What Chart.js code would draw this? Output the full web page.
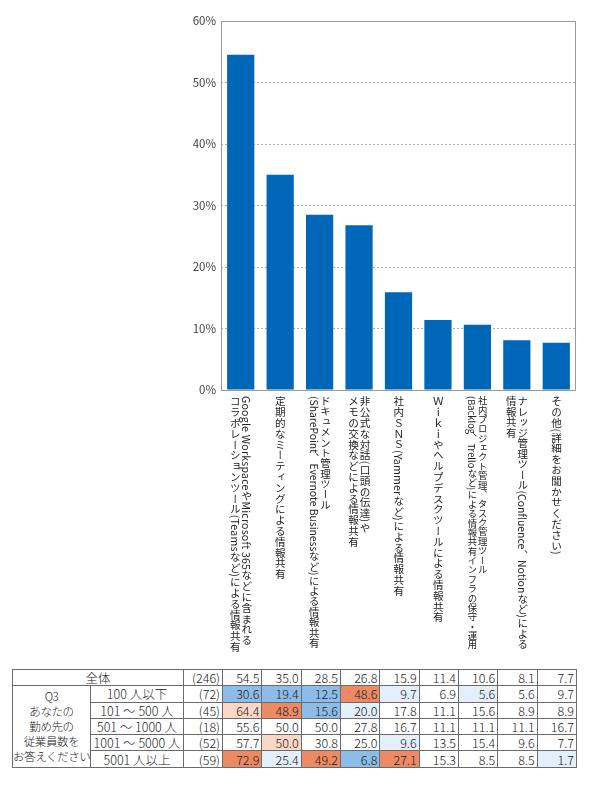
<!DOCTYPE html>
<html><head><meta charset="utf-8">
<script src="https://cdn.jsdelivr.net/npm/chart.js@4.4.1/dist/chart.umd.min.js"></script>
<style>
html,body{margin:0;padding:0;background:#fff;}
#wrap{position:relative;width:590px;height:786px;overflow:hidden;font-family:"Noto Sans CJK JP","Noto Sans",sans-serif;}
#cv{position:absolute;left:0;top:0;}
.xl{position:absolute;top:396px;writing-mode:vertical-rl;font-size:10.6px;line-height:11.5px;letter-spacing:0.2px;color:#222;white-space:nowrap;transform:translateX(-50%);}
table{position:absolute;left:12px;top:669px;border-collapse:collapse;table-layout:fixed;width:564px;font-size:12.5px;font-weight:300;color:#222;}
td{border:1px solid #6a6a6a;padding:0 2px;line-height:15px;height:15.3px;white-space:nowrap;overflow:hidden;}
td.num{text-align:right;}
td.c{text-align:center;font-size:12.5px;}
td.grp{text-align:center;font-size:11.5px;line-height:15px;padding:0;letter-spacing:-0.4px;}
</style></head>
<body><div id="wrap"><canvas id="cv" width="590" height="403"></canvas><table id="tb"></table></div>
<script>
// ---- data ----
const categories = [
  ['Google WorkspaceやMicrosoft 365などに含まれる','コラボレーションツール(Teamsなど)による情報共有'],
  ['定期的なミーティングによる情報共有'],
  ['ドキュメント管理ツール','(SharePoint、Evernote Businessなど)による情報共有'],
  ['非公式な対話(口頭の伝達)や','メモの交換などによる情報共有'],
  ['社内ＳＮＳ(Yammerなど)による情報共有'],
  ['Ｗｉｋｉやヘルプデスクツールによる情報共有'],
  ['社内プロジェクト管理、タスク管理ツール','(Backlog、Trelloなど)による情報共有インフラの保守・運用'],
  ['ナレッジ管理ツール(Confluence、Notionなど)による','情報共有'],
  ['その他(詳細をお聞かせください)']
];
const overallLabel = '全体';
const overallN = 246;
const overall = [54.5, 35.0, 28.5, 26.8, 15.9, 11.4, 10.6, 8.1, 7.7];
const groupTitle = ['Q3','あなたの','勤め先の','従業員数を','お答えください'];
const groupLabels = ['100 人以下','101 ～ 500 人','501 ～ 1000 人','1001 ～ 5000 人','5001 人以上'];
const groupN = [72, 45, 18, 52, 59];
const emp100 = [30.6, 19.4, 12.5, 48.6, 9.7, 6.9, 5.6, 5.6, 9.7];
const emp500 = [64.4, 48.9, 15.6, 20.0, 17.8, 11.1, 15.6, 8.9, 8.9];
const emp1000 = [55.6, 50.0, 50.0, 27.8, 16.7, 11.1, 11.1, 11.1, 16.7];
const emp5000 = [57.7, 50.0, 30.8, 25.0, 9.6, 13.5, 15.4, 9.6, 7.7];
const empOver = [72.9, 25.4, 49.2, 6.8, 27.1, 15.3, 8.5, 8.5, 1.7];
// highlight level: 2 = much higher, 1 = higher, -1 = lower, -2 = much lower
const mark100 = [-2, -2, -2, 2, -1, 0, -1, 0, 0];
const mark500 = [1, 2, -2, -1, 0, 0, 0, 0, 0];
const mark1000 = [0, 0, 0, 0, 0, 0, 0, 0, 0];
const mark5000 = [0, 1, 0, 0, -1, 0, 0, 0, 0];
const markOver = [2, -1, 2, -2, 2, 0, 0, 0, -1];
const yTicks = [0, 10, 20, 30, 40, 50, 60];

// ---- styles ----
const markColor = {'2':'#ec8a63','1':'#fbd7c5','-1':'#e3effa','-2':'#8dbce8','0':''};
const groupRows = [emp100, emp500, emp1000, emp5000, empOver];
const groupMarks = [mark100, mark500, mark1000, mark5000, markOver];
const labelMaxLen = 260;

const frame = {
  id:'frame',
  afterDatasetsDraw(chart){
    const {ctx, chartArea:a} = chart;
    ctx.save();
    ctx.strokeStyle = '#9a9a9a';
    ctx.lineWidth = 1;
    ctx.strokeRect(a.left+0.5, a.top+0.5, a.right-a.left-1, a.bottom-a.top);
    ctx.restore();
  }
};
const xLabels = {
  id:'xLabels',
  afterRender(chart){
    if (chart._xl) return;
    chart._xl = true;
    const wrap = document.getElementById('wrap');
    const xs = chart.scales.x;
    categories.forEach((lines, i) => {
      const d = document.createElement('div');
      d.className = 'xl';
      d.style.left = xs.getPixelForValue(i) + 'px';
      d.style.top = (chart.chartArea.bottom + 6) + 'px';
      lines.forEach((t, k) => {
        if (k) d.appendChild(document.createElement('br'));
        d.appendChild(document.createTextNode(t));
      });
      wrap.appendChild(d);
      const len = d.getBoundingClientRect().height;
      if (len > labelMaxLen) {
        const f = labelMaxLen / len;
        d.style.fontSize = (10.6 * f) + 'px';
        d.style.letterSpacing = '0px';
        d.style.lineHeight = (11.5 * Math.max(f, 0.9)) + 'px';
      }
    });
  }
};

new Chart(document.getElementById('cv'), {
  type:'bar',
  data:{labels:categories, datasets:[{data:overall, backgroundColor:'#0066b7', barPercentage:0.69, categoryPercentage:1}]},
  options:{
    responsive:false, animation:false,
    layout:{padding:{top:21, right:14, bottom:13, left:0}},
    plugins:{legend:{display:false}, tooltip:{enabled:false}},
    scales:{
      x:{ticks:{display:false}, grid:{display:false, drawTicks:false}, border:{display:false}},
      y:{min:0, max:60,
         afterBuildTicks(s){ s.ticks = yTicks.map(v => ({value:v})); },
         ticks:{callback:v => v + '%', color:'#444', padding:5, font:{size:11.5, family:'"Noto Sans CJK JP", sans-serif'}},
         grid:{color:c => (c.tick && (c.tick.value === 0 || c.tick.value === 60)) ? 'rgba(0,0,0,0)' : '#ababab', drawTicks:false, lineWidth:1},
         border:{display:false, dash:[2,2]},
         afterFit(s){ s.width = 221; }
      }
    }
  },
  plugins:[frame, xLabels]
});

// ---- table ----
(function(){
  const tb = document.getElementById('tb');
  const cg = document.createElement('colgroup');
  [78, 93, 39].concat(overall.map(() => 39.33)).forEach(w => {
    const c = document.createElement('col'); c.style.width = w + 'px'; cg.appendChild(c);
  });
  tb.appendChild(cg);
  const fmt = v => v.toFixed(1);
  let tr = document.createElement('tr');
  tr.innerHTML = '<td class="c" colspan="2">' + overallLabel + '</td><td class="num">(' + overallN + ')</td>' +
    overall.map(v => '<td class="num">' + fmt(v) + '</td>').join('');
  tb.appendChild(tr);
  groupLabels.forEach((g, r) => {
    tr = document.createElement('tr');
    let h = '';
    if (r === 0) h += '<td class="grp" rowspan="' + groupLabels.length + '">' + groupTitle.join('<br>') + '</td>';
    h += '<td class="c">' + g + '</td><td class="num">(' + groupN[r] + ')</td>';
    h += groupRows[r].map((v, i) => {
      const bg = markColor[String(groupMarks[r][i])];
      return '<td class="num"' + (bg ? ' style="background:' + bg + '"' : '') + '>' + fmt(v) + '</td>';
    }).join('');
    tr.innerHTML = h;
    tb.appendChild(tr);
  });
})();
</script></body></html>
